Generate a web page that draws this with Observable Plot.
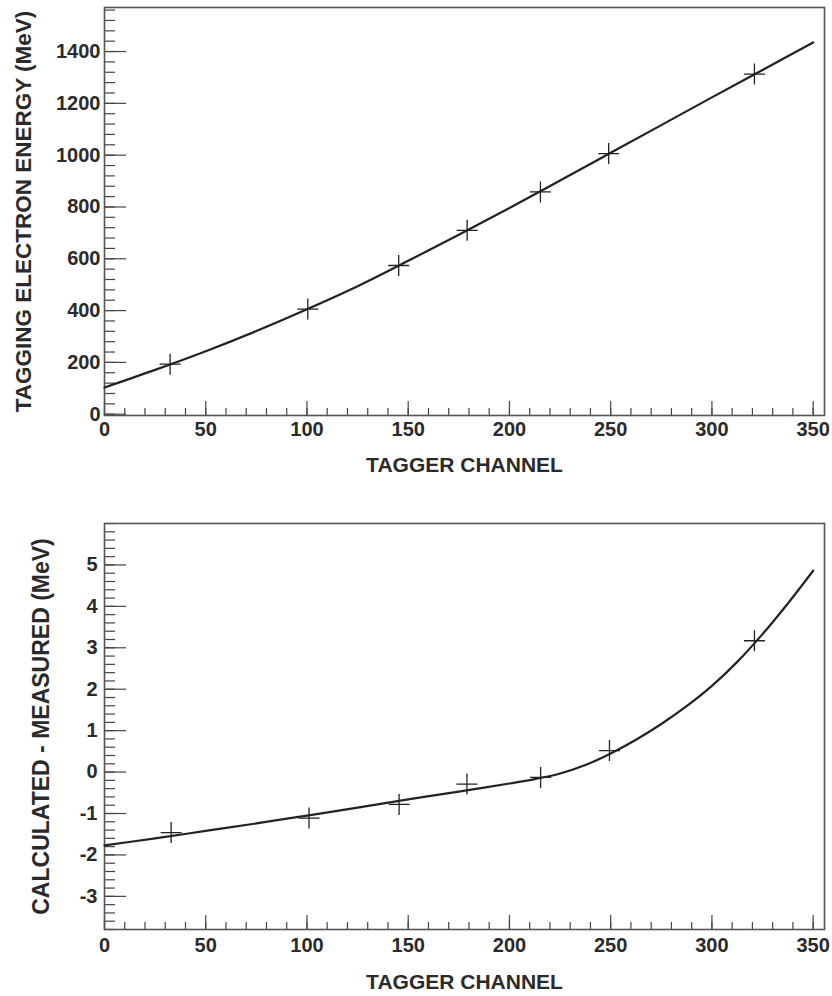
<!DOCTYPE html>
<html>
<head>
<meta charset="utf-8">
<script src="https://cdn.jsdelivr.net/npm/d3@7"></script>
<script src="https://cdn.jsdelivr.net/npm/@observablehq/plot@0.6"></script>
<style>
  html, body { margin: 0; padding: 0; background: #fff; }
  #chart svg { display: block; }
</style>
</head>
<body>
<div id="chart"></div>
<script>
// ---------- Data ----------
// Top panel: measured points
const topChannel = [32.4, 100.4, 145.3, 179.1, 215.3, 249.0, 321.0];
const topEnergy  = [193, 406, 574, 710, 858, 1006, 1313];
// Top panel: fitted curve samples
const topFitChannel = [0, 25, 50, 75, 100, 125, 150, 175, 200, 225, 250, 275, 300, 325, 350];
const topFitEnergy  = [103, 171, 243, 321, 405, 494, 592, 693, 796, 902, 1009, 1116, 1223, 1329, 1435];

// Bottom panel: measured residuals
const botChannel = [32.9, 101.0, 145.5, 179.0, 215.4, 249.4, 321.0];
const botDiff    = [-1.46, -1.11, -0.78, -0.29, -0.13, 0.52, 3.17];
// Bottom panel: fitted curve samples
const botFitChannel = [0, 25, 50, 75, 100, 125, 150, 175, 187.5, 200, 212.5, 225, 237.5, 250, 262.5, 275, 287.5, 300, 312.5, 325, 337.5, 350];
const botFitDiff    = [-1.77, -1.60, -1.42, -1.24, -1.05, -0.86, -0.66, -0.47, -0.375, -0.275, -0.17, -0.035, 0.17, 0.45, 0.78, 1.16, 1.59, 2.08, 2.66, 3.33, 4.07, 4.86];

// Tick labels
const xMajorTicks = [0, 50, 100, 150, 200, 250, 300, 350];
const xMinorTicks = d3.range(0, 351, 10);
const topYMajorTicks = [0, 200, 400, 600, 800, 1000, 1200, 1400];
const topYMinorTicks = d3.range(0, 1561, 40);
const botYMajorTicks = [-3, -2, -1, 0, 1, 2, 3, 4, 5];
const botYMinorTicks = d3.range(-38, 61, 2).map(v => v / 10);

const xTitle = "TAGGER CHANNEL";
const topYTitle = "TAGGING ELECTRON ENERGY (MeV)";
const botYTitle = "CALCULATED - MEASURED (MeV)";

// ---------- Drawing ----------
const FONT = "'Liberation Sans', Arial, Helvetica, sans-serif";
const INK = "#2a2a2a";

const cross = {
  draw(ctx, size) {
    const r = Math.sqrt(size / Math.PI);
    ctx.moveTo(-r, 0); ctx.lineTo(r, 0);
    ctx.moveTo(0, -r); ctx.lineTo(0, r);
  }
};

function panel(o) {
  const pts = o.px.map((x, i) => ({x, y: o.py[i]}));
  const fit = o.fx.map((x, i) => ({x, y: o.fy[i]}));
  return Plot.plot({
    width: 832,
    height: o.height,
    marginLeft: 104,
    marginRight: 8,
    marginTop: o.marginTop,
    marginBottom: o.marginBottom,
    style: {fontFamily: FONT, background: "#fff", color: INK, overflow: "visible"},
    x: {domain: [0, 355.6]},
    y: {domain: o.yDomain},
    marks: [
      // minor & major ticks, drawn inward
      Plot.axisX(xMinorTicks, {anchor: "bottom", tickSize: 7, dy: -7, fill: "none", label: null, stroke: "#444", strokeWidth: 1.2}),
      Plot.axisX(xMajorTicks, {anchor: "bottom", tickSize: 14, dy: -14, fill: "none", label: null, stroke: "#444", strokeWidth: 1.2}),
      Plot.axisY(o.yMinor, {anchor: "left", tickSize: 11, dx: 11, fill: "none", label: null, stroke: "#444", strokeWidth: 1.2}),
      Plot.axisY(o.yMajor, {anchor: "left", tickSize: 22, dx: 22, fill: "none", label: null, stroke: "#444", strokeWidth: 1.2}),
      // tick labels
      Plot.axisX(xMajorTicks, {anchor: "bottom", tickSize: 0, tickPadding: o.xPad, label: null,
        fontSize: 20, fontWeight: "bold", fill: INK, tickFormat: d => String(d)}),
      Plot.axisY(o.yMajor, {anchor: "left", tickSize: 0, tickPadding: o.yPad, label: null,
        fontSize: 20, fontWeight: "bold", fill: INK, tickFormat: d => String(d)}),
      // axis titles
      Plot.axisX([], {anchor: "bottom", tickSize: 0, label: xTitle, labelAnchor: "center", labelArrow: "none",
        labelOffset: o.xLabelOffset, fontSize: 21, fontWeight: "bold", fill: INK}),
      Plot.axisY([], {anchor: "left", tickSize: 0, label: o.yTitle, labelAnchor: "center", labelArrow: "none",
        labelOffset: o.yLabelOffset, fontSize: o.yTitleSize, fontWeight: "bold", fill: INK}),
      Plot.frame({stroke: "#555", strokeWidth: 1.6}),
      // fitted curve and measurements
      Plot.line(fit, {x: "x", y: "y", curve: "catmull-rom", stroke: "#222", strokeWidth: 2.2}),
      Plot.dot(pts, {x: "x", y: "y", r: 10.5, symbol: cross, fill: "none", stroke: "#222", strokeWidth: 1.3})
    ]
  });
}

const topPanel = panel({
  height: 475, marginTop: 7, marginBottom: 60,
  yDomain: [-5, 1570], yMajor: topYMajorTicks, yMinor: topYMinorTicks,
  yTitle: topYTitle, yTitleSize: 22.5, yLabelOffset: 89, xLabelOffset: 56, xPad: 6, yPad: 4,
  px: topChannel, py: topEnergy, fx: topFitChannel, fy: topFitEnergy
});

const bottomPanel = panel({
  height: 521, marginTop: 48, marginBottom: 67,
  yDomain: [-3.8, 6], yMajor: botYMajorTicks, yMinor: botYMinorTicks,
  yTitle: botYTitle, yTitleSize: 23, yLabelOffset: 72, xLabelOffset: 59, xPad: 8, yPad: 7,
  px: botChannel, py: botDiff, fx: botFitChannel, fy: botFitDiff
});

const root = document.getElementById("chart");
root.appendChild(topPanel);
root.appendChild(bottomPanel);
</script>
</body>
</html>
